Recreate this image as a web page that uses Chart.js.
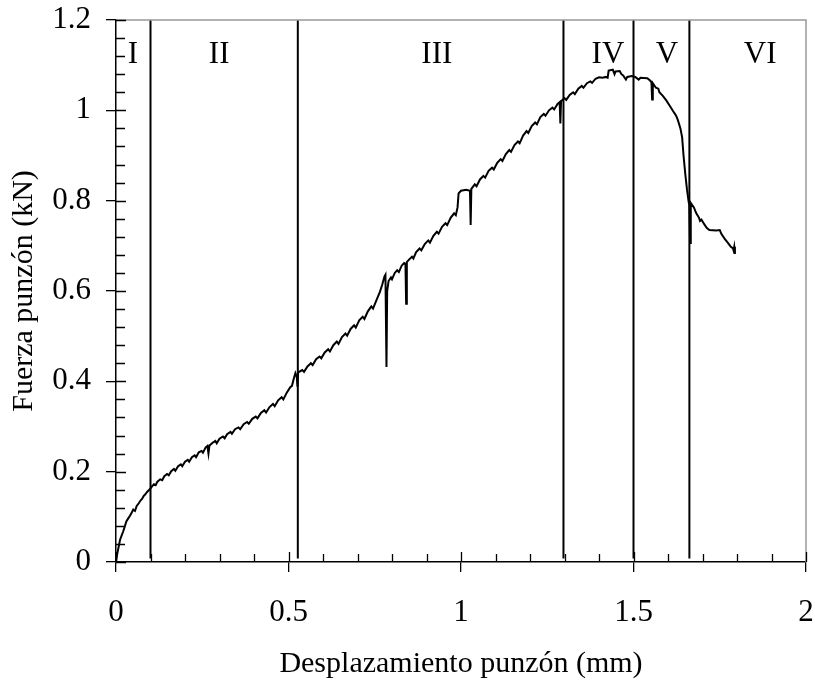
<!DOCTYPE html>
<html>
<head>
<meta charset="utf-8">
<script src="https://cdn.jsdelivr.net/npm/chart.js@4"></script>
<style>
  body { margin: 0; background: #fff; }
  #wrap { width: 815px; height: 682px; }
</style>
</head>
<body>
<div id="wrap"><canvas id="punchChart" width="815" height="682"></canvas></div>
<script>
// Curve (displacement mm, force kN)
const dispMm = [
  0, 0.004, 0.008, 0.012, 0.016, 0.021, 0.026, 0.030, 0.035, 0.041, 0.046, 0.050, 0.055, 0.060, 0.066, 0.071,
  0.076, 0.080, 0.085, 0.090, 0.095, 0.100, 0.105, 0.110, 0.115, 0.120, 0.128, 0.134, 0.140, 0.148, 0.153, 0.160,
  0.168, 0.172, 0.180, 0.188, 0.192, 0.200, 0.208, 0.212, 0.220, 0.228, 0.232, 0.240, 0.248, 0.252, 0.260, 0.265,
  0.268, 0.271, 0.280, 0.288, 0.292, 0.300, 0.310, 0.315, 0.322, 0.332, 0.336, 0.345, 0.355, 0.360, 0.370, 0.380,
  0.385, 0.395, 0.405, 0.410, 0.420, 0.430, 0.435, 0.445, 0.455, 0.460, 0.470, 0.480, 0.485, 0.495, 0.505, 0.510,
  0.515, 0.520, 0.524, 0.526, 0.528, 0.540, 0.545, 0.555, 0.565, 0.570, 0.580, 0.590, 0.595, 0.605, 0.615, 0.620,
  0.630, 0.640, 0.645, 0.655, 0.665, 0.670, 0.680, 0.690, 0.695, 0.705, 0.715, 0.720, 0.730, 0.740, 0.745, 0.755,
  0.765, 0.772, 0.778, 0.781, 0.784, 0.786, 0.790, 0.797, 0.800, 0.808, 0.815, 0.820, 0.828, 0.835, 0.839, 0.841,
  0.843, 0.850, 0.858, 0.862, 0.870, 0.880, 0.885, 0.895, 0.905, 0.910, 0.920, 0.930, 0.935, 0.945, 0.955, 0.960,
  0.970, 0.980, 0.985, 0.990, 0.993, 1.000, 1.015, 1.026, 1.028, 1.030, 1.040, 1.045, 1.055, 1.065, 1.070, 1.080,
  1.090, 1.095, 1.105, 1.115, 1.120, 1.130, 1.140, 1.145, 1.155, 1.165, 1.170, 1.180, 1.190, 1.195, 1.205, 1.215,
  1.220, 1.230, 1.240, 1.245, 1.255, 1.265, 1.270, 1.280, 1.286, 1.288, 1.290, 1.300, 1.305, 1.315, 1.325, 1.330,
  1.340, 1.350, 1.355, 1.365, 1.375, 1.380, 1.390, 1.400, 1.410, 1.420, 1.425, 1.428, 1.440, 1.445, 1.448, 1.460,
  1.465, 1.470, 1.478, 1.482, 1.495, 1.505, 1.515, 1.520, 1.540, 1.548, 1.552, 1.554, 1.556, 1.565, 1.572, 1.575,
  1.585, 1.595, 1.605, 1.615, 1.622, 1.626, 1.630, 1.636, 1.641, 1.645, 1.650, 1.655, 1.660, 1.662, 1.664, 1.666,
  1.675, 1.682, 1.690, 1.693, 1.697, 1.705, 1.712, 1.720, 1.740, 1.750, 1.755, 1.765, 1.772, 1.778, 1.782, 1.788,
  1.790, 1.792, 1.794
];
const forceKN = [
  0, 0.020, 0.035, 0.050, 0.058, 0.068, 0.080, 0.090, 0.096, 0.103, 0.110, 0.116, 0.113, 0.124, 0.130, 0.136,
  0.140, 0.146, 0.150, 0.155, 0.159, 0.163, 0.168, 0.172, 0.170, 0.178, 0.183, 0.181, 0.190, 0.195, 0.192, 0.201,
  0.206, 0.202, 0.212, 0.216, 0.212, 0.222, 0.226, 0.222, 0.232, 0.236, 0.232, 0.243, 0.246, 0.242, 0.254, 0.257,
  0.240, 0.258, 0.264, 0.268, 0.263, 0.273, 0.278, 0.274, 0.283, 0.288, 0.284, 0.294, 0.298, 0.294, 0.305, 0.310,
  0.306, 0.317, 0.322, 0.318, 0.330, 0.336, 0.331, 0.343, 0.350, 0.345, 0.358, 0.365, 0.360, 0.375, 0.387, 0.390,
  0.405, 0.418, 0.410, 0.388, 0.420, 0.425, 0.421, 0.433, 0.440, 0.436, 0.449, 0.455, 0.451, 0.464, 0.471, 0.466,
  0.480, 0.488, 0.483, 0.498, 0.506, 0.501, 0.516, 0.524, 0.519, 0.535, 0.543, 0.538, 0.555, 0.566, 0.561, 0.580,
  0.598, 0.615, 0.632, 0.636, 0.432, 0.600, 0.622, 0.630, 0.626, 0.640, 0.646, 0.642, 0.656, 0.662, 0.660, 0.572,
  0.664, 0.670, 0.676, 0.672, 0.686, 0.694, 0.690, 0.704, 0.712, 0.707, 0.722, 0.731, 0.727, 0.742, 0.750, 0.746,
  0.762, 0.772, 0.768, 0.785, 0.816, 0.822, 0.824, 0.822, 0.746, 0.826, 0.836, 0.832, 0.847, 0.855, 0.851, 0.866,
  0.873, 0.869, 0.884, 0.892, 0.888, 0.903, 0.912, 0.908, 0.923, 0.931, 0.927, 0.944, 0.954, 0.950, 0.965, 0.973,
  0.969, 0.985, 0.992, 0.988, 1.000, 1.006, 1.002, 1.014, 1.018, 0.971, 1.020, 1.027, 1.023, 1.034, 1.040, 1.036,
  1.048, 1.054, 1.050, 1.060, 1.064, 1.061, 1.070, 1.073, 1.072, 1.074, 1.072, 1.088, 1.090, 1.080, 1.086, 1.087,
  1.080, 1.077, 1.068, 1.074, 1.076, 1.074, 1.068, 1.072, 1.071, 1.066, 1.062, 1.024, 1.060, 1.050, 1.048, 1.040,
  1.032, 1.022, 1.010, 0.998, 0.990, 0.984, 0.975, 0.960, 0.940, 0.900, 0.860, 0.825, 0.797, 0.790, 0.706, 0.795,
  0.785, 0.772, 0.762, 0.755, 0.758, 0.748, 0.740, 0.735, 0.734, 0.735, 0.726, 0.715, 0.708, 0.702, 0.698, 0.695,
  0.690, 0.698, 0.682
];

// Stage boundaries and labels
const stageBounds = [0.1, 0.527, 1.297, 1.5, 1.662];
const stageNames = ['I', 'II', 'III', 'IV', 'V', 'VI'];
const stageLabelX = [0.049, 0.299, 0.93, 1.426, 1.597, 1.867];
const stageLabelY = 1.123;

const xTicks = [0, 0.5, 1, 1.5, 2];
const yTicks = [0, 0.2, 0.4, 0.6, 0.8, 1, 1.2];

const serif = "'Liberation Serif', 'Times New Roman', serif";

const curve = dispMm.map((x, i) => ({ x: x, y: forceKN[i] }));

const datasets = [{
  data: curve,
  showLine: true,
  borderColor: '#000',
  borderWidth: 2,
  pointRadius: 0,
  tension: 0
}];
stageBounds.forEach(function (b) {
  datasets.push({
    data: [{ x: b, y: 0.008 }, { x: b, y: 1.2 }],
    showLine: true,
    borderColor: '#000',
    borderWidth: 2,
    pointRadius: 0
  });
});

// frame, inward ticks and stage labels
const decorPlugin = {
  id: 'decor',
  afterDraw(chart) {
    const ctx = chart.ctx;
    const a = chart.chartArea;
    const xs = chart.scales.x, ys = chart.scales.y;
    ctx.save();
    ctx.strokeStyle = '#999';
    ctx.lineWidth = 1.5;
    ctx.beginPath();
    ctx.moveTo(a.left, a.top);
    ctx.lineTo(a.right, a.top);
    ctx.lineTo(a.right, a.bottom);
    ctx.stroke();

    ctx.strokeStyle = '#000';
    ctx.lineWidth = 1.3;
    ctx.beginPath();
    for (let i = 0; i <= 30; i++) {
      const py = Math.round(ys.getPixelForValue(i * 0.04)) + 0.5;
      const len = i % 5 === 0 ? 10 : 9;
      ctx.moveTo(a.left, py);
      ctx.lineTo(a.left + len, py);
    }
    for (let i = 0; i <= 20; i++) {
      const px = Math.round(xs.getPixelForValue(i * 0.1)) + 0.5;
      const len = i % 5 === 0 ? 10 : 8;
      ctx.moveTo(px, a.bottom);
      ctx.lineTo(px, a.bottom - len);
    }
    ctx.stroke();

    ctx.fillStyle = '#000';
    ctx.font = '31px ' + serif;
    ctx.textAlign = 'center';
    ctx.textBaseline = 'middle';
    stageNames.forEach(function (n, i) {
      ctx.fillText(n, xs.getPixelForValue(stageLabelX[i]), ys.getPixelForValue(stageLabelY));
    });
    ctx.restore();
  }
};

new Chart(document.getElementById('punchChart'), {
  type: 'scatter',
  data: { datasets: datasets },
  options: {
    responsive: false,
    animation: false,
    layout: { padding: { top: 20, right: 9, left: 0, bottom: 0 } },
    plugins: { legend: { display: false }, tooltip: { enabled: false } },
    scales: {
      x: {
        type: 'linear',
        min: 0,
        max: 2,
        afterBuildTicks: function (s) { s.ticks = xTicks.map(v => ({ value: v })); },
        afterFit: function (s) { s.height = 120; s.paddingLeft = 0; s.paddingRight = 0; },
        grid: { drawOnChartArea: false, drawTicks: true, tickLength: 10, color: '#000', lineWidth: 1.3 },
        border: { color: '#000', width: 1.5 },
        ticks: {
          color: '#000',
          font: { family: serif, size: 31 },
          padding: 22,
          maxRotation: 0,
          callback: v => String(v)
        },
        title: {
          display: true,
          text: 'Desplazamiento punzón (mm)',
          color: '#000',
          font: { family: serif, size: 30 },
          padding: { top: 0, bottom: 0 }
        }
      },
      y: {
        type: 'linear',
        min: 0,
        max: 1.2,
        afterBuildTicks: function (s) { s.ticks = yTicks.map(v => ({ value: v })); },
        afterFit: function (s) { s.width = 116; s.paddingTop = 0; s.paddingBottom = 0; },
        grid: { drawOnChartArea: false, drawTicks: true, tickLength: 10, color: '#000', lineWidth: 1.3 },
        border: { color: '#000', width: 1.5 },
        ticks: {
          color: '#000',
          font: { family: serif, size: 31 },
          padding: 15,
          callback: v => String(v)
        },
        title: {
          display: true,
          text: 'Fuerza punzón (kN)',
          color: '#000',
          font: { family: serif, size: 30 },
          padding: { top: 6, bottom: 0 }
        }
      }
    }
  },
  plugins: [decorPlugin]
});
</script>
</body>
</html>
